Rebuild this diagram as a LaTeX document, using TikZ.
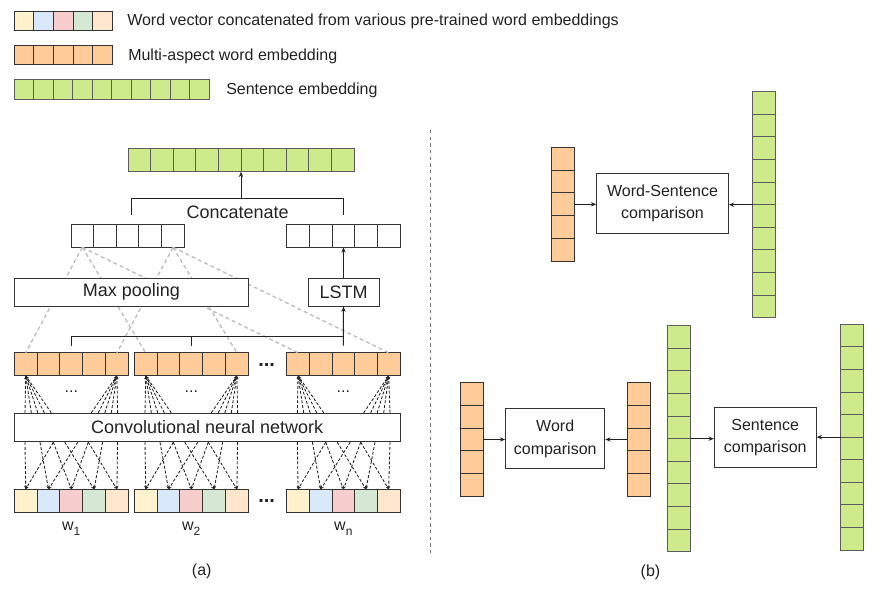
\documentclass[tikz,border=0pt]{standalone}
\usepackage{fontspec}
\setmainfont{Liberation Sans}
\usetikzlibrary{arrows.meta,calc}
\definecolor{cy}{HTML}{FFF2CC}
\definecolor{cb}{HTML}{DAE8FC}
\definecolor{cp}{HTML}{F8CECC}
\definecolor{cg}{HTML}{D5E8D4}
\definecolor{ce}{HTML}{FFE6CC}
\definecolor{co}{HTML}{FFCC99}
\definecolor{cs}{HTML}{CDEB8B}
\definecolor{txt}{HTML}{222222}
\definecolor{bd}{HTML}{333333}
\definecolor{bdg}{HTML}{5C5C5C}
\definecolor{gl}{HTML}{BDBDBD}
\definecolor{dv}{HTML}{777777}
% #1 style, #2 prefix, #3 x0, #4 y0, #5 cell w, #6 cell h, #7 fills
\newcommand\hcells[7]{%
  \foreach \cc [count=\i] in {#7}
    \node[#1, fill=\cc, minimum width=#5*0.75pt, minimum height=#6*0.75pt] (#2\i) at ({#3+(\i-0.5)*#5},{#4+#6/2}) {};}
\newcommand\vcells[7]{%
  \foreach \cc [count=\i] in {#7}
    \node[#1, fill=\cc, minimum width=#5*0.75pt, minimum height=#6*0.75pt] (#2\i) at ({#3+#5/2},{#4+(\i-0.5)*#6}) {};}
\begin{document}
\begin{tikzpicture}[x=0.75pt,y=-0.75pt,
  cell/.style={draw=bd, line width=0.75pt, inner sep=0pt, outer sep=0pt},
  gcell/.style={cell, draw=bdg},
  box/.style={draw=bd, line width=0.75pt, fill=white, inner sep=0pt, text=txt, font=\fontsize{13.5}{16}\selectfont, align=center},
  bbox/.style={box, font=\fontsize{12}{16.7}\selectfont},
  lbl/.style={text=txt, font=\fontsize{12}{14}\selectfont, inner sep=0pt},
  biglbl/.style={lbl, font=\fontsize{13.5}{16}\selectfont},
  bdots/.style={lbl, font=\fontsize{15}{15}\selectfont\bfseries},
  arr/.style={draw=txt, line width=0.75pt, -{Stealth[length=4pt,width=3.2pt]}},
  fan/.style={draw=txt, line width=0.65pt, dash pattern=on 2.2pt off 1.4pt, -{Stealth[length=2.6pt,width=2.2pt]}},
  grayd/.style={draw=gl, line width=1pt, dash pattern=on 3pt off 2.2pt},
  brk/.style={draw=txt, line width=0.75pt},
  divline/.style={draw=dv, line width=1.1pt, dash pattern=on 2.5pt off 2.5pt}]
\useasboundingbox (0,0) rectangle (880,601);

% ---------------- legend ----------------
\hcells{cell}{L1-}{14}{11}{19.74}{19.7}{cy,cb,cp,cg,ce}
\hcells{cell}{L2-}{14}{45.5}{19.74}{19}{co,co,co,co,co}
\hcells{gcell}{L3-}{14}{79.3}{19.5}{19.7}{cs,cs,cs,cs,cs,cs,cs,cs,cs,cs}
\node[lbl, anchor=west] (t1) at (127,21.5) {Word vector concatenated from various pre-trained word embeddings};
\node[lbl, anchor=west] (t2) at (128,56) {Multi-aspect word embedding};
\node[lbl, anchor=west] (t3) at (226,90) {Sentence embedding};

% ---------------- panel (a) ----------------
\hcells{gcell}{S-}{128}{148.3}{22.6}{23.4}{cs,cs,cs,cs,cs,cs,cs,cs,cs,cs}
\hcells{cell}{WL-}{71}{224.3}{22.66}{23}{white,white,white,white,white}
\hcells{cell}{WR-}{286.5}{224.3}{22.8}{23}{white,white,white,white,white}
\hcells{cell}{o1-}{14.3}{352.7}{22.8}{23}{co,co,co,co,co}
\hcells{cell}{o2-}{134.3}{352.7}{22.8}{23}{co,co,co,co,co}
\hcells{cell}{o3-}{286.7}{352.7}{22.66}{23}{co,co,co,co,co}
\hcells{cell}{v1-}{14.3}{489.3}{22.8}{23}{cy,cb,cp,cg,ce}
\hcells{cell}{v2-}{134.3}{489.3}{22.8}{23}{cy,cb,cp,cg,ce}
\hcells{cell}{v3-}{286.7}{489.3}{22.66}{23}{cy,cb,cp,cg,ce}

% grey dashed pooling lines (behind the boxes)
\foreach \g in {1,2,3} {
  \draw[grayd] (WL-1.south) -- (o\g-1.north);
  \draw[grayd] (WL-5.south) -- (o\g-5.north);
}

\node[box, minimum width=234*0.75pt, minimum height=27.7*0.75pt] (mp) at (131.3,292.2) {Max pooling};
\node[box, minimum width=71*0.75pt, minimum height=27.7*0.75pt] (lstm) at (343.5,292.2) {LSTM};
\node[box, minimum width=385.7*0.75pt, minimum height=28.4*0.75pt] (cnn) at (207.2,427.5) {Convolutional neural network};

% concatenate bracket
\coordinate (cL) at (131.7,215);
\coordinate (cR) at (343.5,215);
\coordinate (cM) at (241,198.3);
\draw[brk] (cL) |- (cM) -| (cR);
\draw[arr] (cM) -- (S-5.south east);
\node[biglbl] (cat) at (237.6,212) {Concatenate};
\draw[arr] (lstm.north) -- (WR-3.south);

% bracket to LSTM
\coordinate (b1) at ($(o1-3.north)+(0,-7)$);
\coordinate (b2) at ($(o2-3.north)+(0,-7)$);
\coordinate (b3) at ($(o3-3.north)+(0,-7)$);
\coordinate (bh) at ($(b3)+(0,-9)$);
\draw[brk] (b1) |- (bh);
\draw[brk] (b2) -- (b2 |- bh);
\draw[arr] (b3) -- (lstm.south);

% CNN fans and connections
\foreach \g in {1,2,3} {
  \foreach \d in {10.7,17,23.5,30,37}
    \draw[fan] ($(o\g-1.south west |- cnn.north)+(\d,0)$) -- (o\g-1.south);
  \foreach \d in {77,84,90.5,97,103.3}
    \draw[fan] ($(o\g-1.south west |- cnn.north)+(\d,0)$) -- (o\g-5.south);
  \node[lbl] (id\g) at ($(o\g-3.south)+(0,16)$) {...};
  \foreach \p/\c in {10.7/1, 39/1, 25.7/2, 63.5/2, 39/3, 74/3, 50.5/4, 88.3/4, 74/5, 103.3/5}
    \draw[fan] ($(v\g-1.north west |- cnn.south)+(\p,0)$) -- (v\g-\c.north);
}
\node[bdots] (dA) at (266.7,364.5) {...};
\node[bdots] (dB) at (266.7,500.5) {...};

% word labels
\node[lbl, anchor=base] (w1) at (v1-3.south |- 0,530.5) {w\raisebox{-3.5pt}{\fontsize{9}{9}\selectfont 1}};
\node[lbl, anchor=base] (w2) at (v2-3.south |- 0,530.5) {w\raisebox{-3.5pt}{\fontsize{9}{9}\selectfont 2}};
\node[lbl, anchor=base] (w3) at (v3-3.south |- 0,530.5) {w\raisebox{-3.5pt}{\fontsize{9}{9}\selectfont n}};

\node[lbl] (capa) at (201.7,571.7) {(a)};

% divider
\coordinate (dv1) at (430.7,130);
\coordinate (dv2) at (430.7,555);
\draw[divline] (dv1) -- (dv2);

% ---------------- panel (b) ----------------
\vcells{cell}{A-}{551}{147.3}{23}{22.8}{co,co,co,co,co}
\vcells{gcell}{B-}{752.7}{91.7}{22.6}{22.6}{cs,cs,cs,cs,cs,cs,cs,cs,cs,cs}
\node[bbox, minimum width=131.6*0.75pt, minimum height=60.4*0.75pt] (ws) at (662.5,203.5) {Word-Sentence\\comparison};
\draw[arr] (A-3.east) -- (A-3.east -| ws.west);
\draw[arr] (B-5.south west) -- (B-5.south west -| ws.east);

\vcells{cell}{C-}{460.7}{382.7}{22.6}{22.7}{co,co,co,co,co}
\vcells{cell}{D-}{627.3}{382.7}{22.7}{22.7}{co,co,co,co,co}
\vcells{gcell}{E-}{667.7}{325.7}{22.6}{22.6}{cs,cs,cs,cs,cs,cs,cs,cs,cs,cs}
\vcells{gcell}{F-}{840.7}{324.3}{22.6}{22.57}{cs,cs,cs,cs,cs,cs,cs,cs,cs,cs}
\node[bbox, minimum width=99*0.75pt, minimum height=60.3*0.75pt] (wc) at (555.2,438.8) {Word\\comparison};
\node[bbox, minimum width=101.7*0.75pt, minimum height=60.3*0.75pt] (sc) at (765.2,437.8) {Sentence\\comparison};
\draw[arr] (C-3.east) -- (C-3.east -| wc.west);
\draw[arr] (D-3.west) -- (D-3.west -| wc.east);
\draw[arr] (E-5.south east) -- (E-5.south east -| sc.west);
\draw[arr] (F-5.south west) -- (F-5.south west -| sc.east);

\node[lbl] (capb) at (650.5,572) {(b)};
\end{tikzpicture}
\end{document}
